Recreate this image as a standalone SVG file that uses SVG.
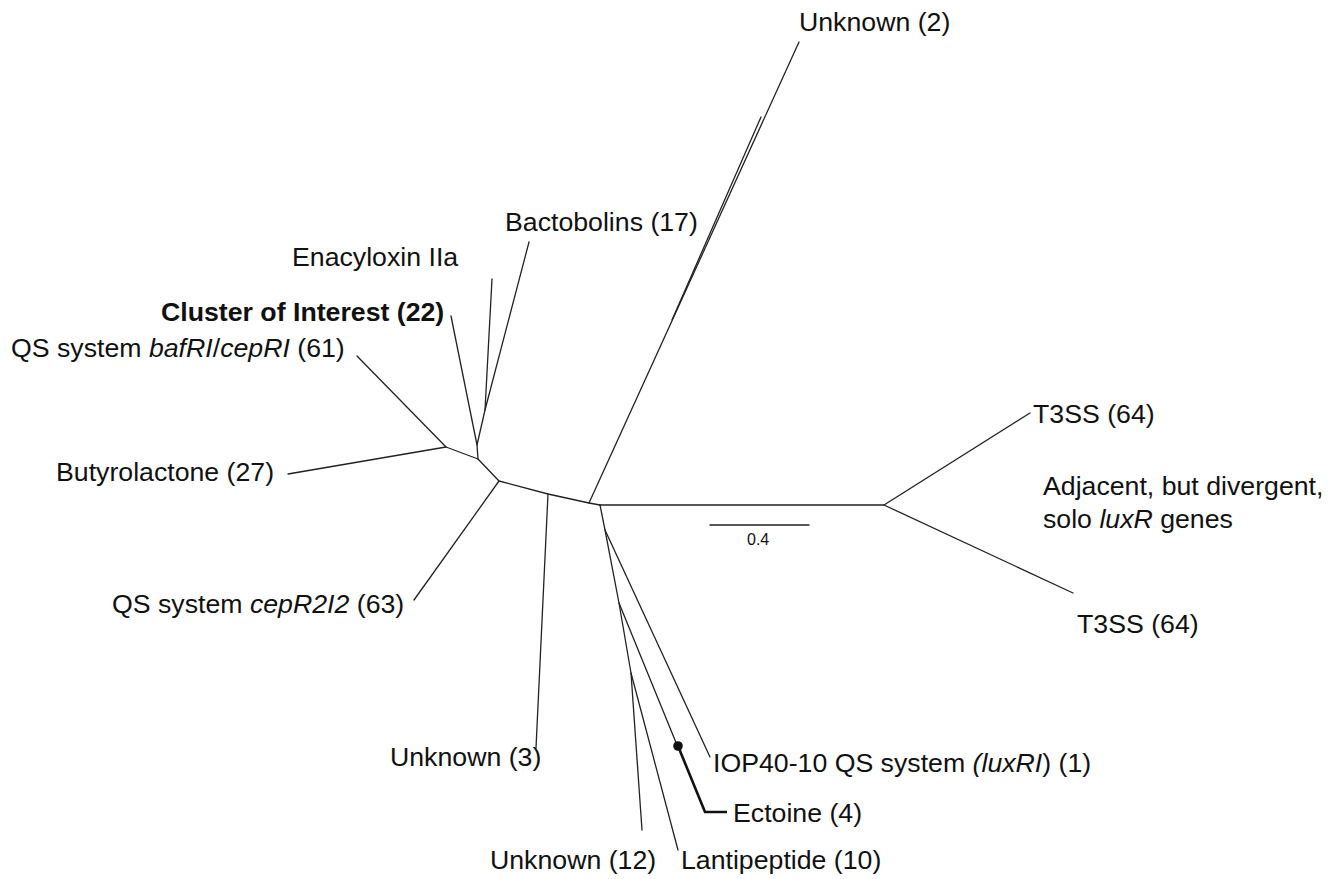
<svg xmlns="http://www.w3.org/2000/svg" width="1341" height="879" viewBox="0 0 1341 879">
<style>
  .br { fill: none; stroke: #222; stroke-width: 1.3; stroke-linecap: round; stroke-linejoin: round; }
  .lbl { font-family: "Liberation Sans", Arial, sans-serif; font-size: 26.7px; fill: #111; }
  .b { font-weight: bold; }
  .it { font-style: italic; }
  .callout { fill: none; stroke: #111; stroke-width: 2.6; stroke-linejoin: miter; }
</style>
<rect width="1341" height="879" fill="#fff"/>
<g id="connectors">
  <!-- left cluster -->
  <path class="br" d="M357,356 L446,447 L478,459 L499,481 L548,494 L589,503 L600,505"/>
  <path class="br" d="M288,474 L446,447"/>
  <path class="br" d="M478,459 L477,445 L451,316"/>
  <path class="br" d="M477,445 L485,410 L492,279"/>
  <path class="br" d="M485,410 L529,242"/>
  <path class="br" d="M499,481 L414,600"/>
  <path class="br" d="M548,494 L536,748"/>
  <!-- Unknown (2) -->
  <path class="br" d="M589,503 L799,42"/>
  <path class="br" d="M672,320 L761,117"/>
  <!-- T3SS -->
  <path class="br" d="M600,505 L884,505 L1030,413"/>
  <path class="br" d="M884,505 L1073,593"/>
  <!-- lower cluster -->
  <path class="br" d="M600,505 L605,530 L619,603 L631,673 L642,830"/>
  <path class="br" d="M631,673 L678,850"/>
  <path class="br" d="M605,530 L710,757"/>
  <path class="br" d="M619,603 L677,745"/>
  <!-- Ectoine callout -->
  <circle cx="678" cy="746" r="4.8" fill="#111"/>
  <path class="callout" d="M678,746 L705,812 L727,812"/>
  <!-- scale bar -->
  <path class="br" d="M710,525 L809,525"/>
</g>
<g id="scale-label"><text class="lbl" x="747" y="545" style="font-size:16px">0.4</text></g>
<g id="node-unknown2"><text class="lbl" x="799" y="31">Unknown (2)</text></g>
<g id="node-bactobolins"><text class="lbl" x="505" y="231">Bactobolins (17)</text></g>
<g id="node-enacyloxin"><text class="lbl" x="292" y="266">Enacyloxin IIa</text></g>
<g id="node-cluster"><text class="lbl b" x="161" y="321">Cluster of Interest (22)</text></g>
<g id="node-bafRI"><text class="lbl" x="11" y="357">QS system <tspan class="it">bafRI</tspan>/<tspan class="it">cepRI</tspan> (61)</text></g>
<g id="node-butyrolactone"><text class="lbl" x="56" y="481">Butyrolactone (27)</text></g>
<g id="node-cepR2I2"><text class="lbl" x="112" y="613">QS system <tspan class="it">cepR2I2</tspan> (63)</text></g>
<g id="node-unknown3"><text class="lbl" x="390" y="766">Unknown (3)</text></g>
<g id="node-iop40"><text class="lbl" x="713" y="772">IOP40-10 QS system <tspan class="it">(luxRI</tspan>) (1)</text></g>
<g id="node-ectoine"><text class="lbl" x="733" y="822">Ectoine (4)</text></g>
<g id="node-unknown12"><text class="lbl" x="490" y="869">Unknown (12)</text></g>
<g id="node-lantipeptide"><text class="lbl" x="681" y="869">Lantipeptide (10)</text></g>
<g id="node-t3ss-top"><text class="lbl" x="1033" y="423">T3SS (64)</text></g>
<g id="node-t3ss-bottom"><text class="lbl" x="1077" y="633">T3SS (64)</text></g>
<g id="note-adjacent"><text class="lbl" x="1043" y="495">Adjacent, but divergent,</text><text class="lbl" x="1043" y="528">solo <tspan class="it">luxR</tspan> genes</text></g>
</svg>
